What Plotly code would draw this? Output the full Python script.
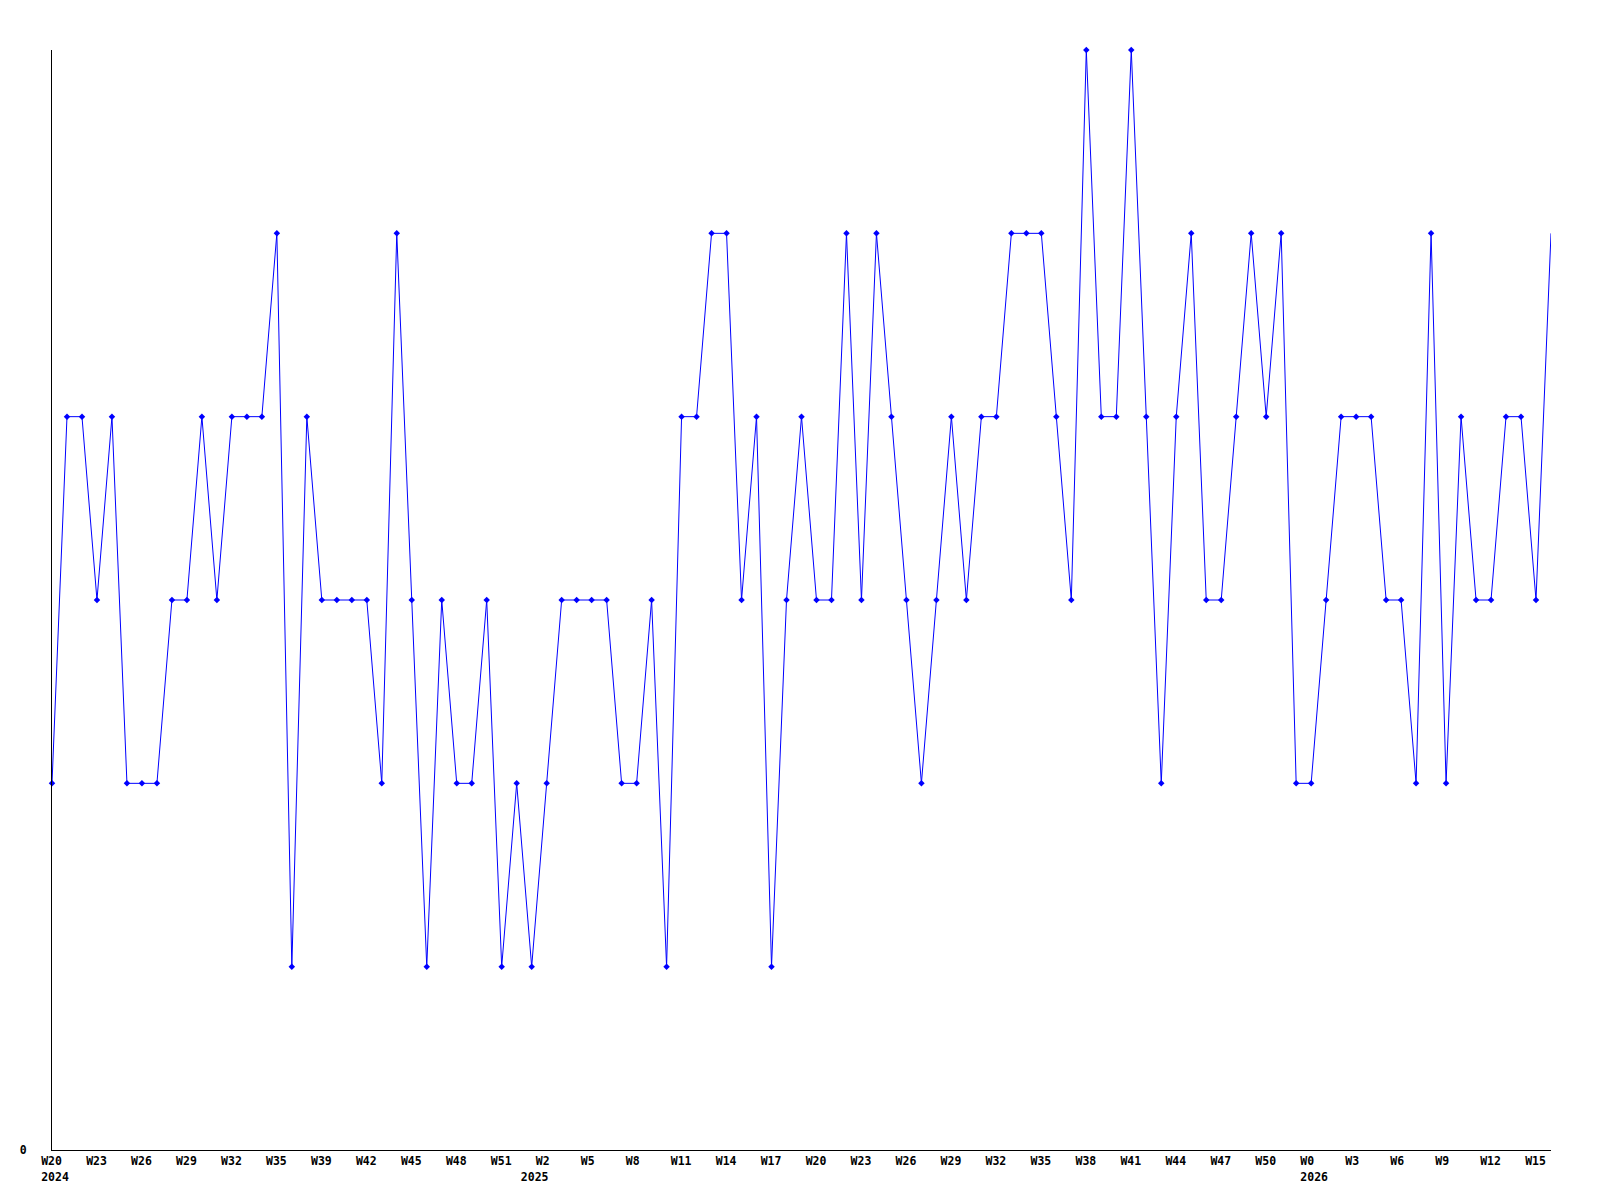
import plotly.graph_objects as go

# Weekly counts, one per week from W20 2024 onwards.
counts = [
    2, 4, 4, 3, 4, 2, 2, 2, 3, 3,
    4, 3, 4, 4, 4, 5, 1, 4, 3, 3,
    3, 3, 2, 5, 3, 1, 3, 2, 2, 3,
    1, 2, 1, 2, 3, 3, 3, 3, 2, 2,
    3, 1, 4, 4, 5, 5, 3, 4, 1, 3,
    4, 3, 3, 5, 3, 5, 4, 3, 2, 3,
    4, 3, 4, 4, 5, 5, 5, 4, 3, 6,
    4, 4, 6, 4, 2, 4, 5, 3, 3, 4,
    5, 4, 5, 2, 2, 3, 4, 4, 4, 3,
    3, 2, 5, 2, 4, 3, 3, 4, 4, 3,
    5,
]

# Tick labels, one every third week.
week_labels = [
    "W20", "W23", "W26", "W29", "W32", "W35", "W39", "W42", "W45", "W48",
    "W51", "W2", "W5", "W8", "W11", "W14", "W17", "W20", "W23", "W26",
    "W29", "W32", "W35", "W38", "W41", "W44", "W47", "W50", "W0", "W3",
    "W6", "W9", "W12", "W15",
]
# Year labels sit at the first week of each year.
year_weeks = [0, 32, 84]
year_labels = ["2024", "2025", "2026"]

x = list(range(len(counts)))
tick_step = 3
tickvals = [i * tick_step for i in range(len(week_labels))]

# Pad to four characters so weeks line up with the years (monospace font).
ticktext = [label.ljust(4).replace(" ", "\u00a0") for label in week_labels]

blue = "rgb(0,0,255)"
font = dict(family="DejaVu Sans Mono", size=11.5, color="black", weight="bold")

fig = go.Figure()

fig.add_trace(go.Scatter(
    x=x,
    y=counts,
    mode="lines",
    line=dict(color=blue, width=1),
    cliponaxis=False,
    hoverinfo="skip",
))

# The last week is drawn without a marker.
fig.add_trace(go.Scatter(
    x=x[:-1],
    y=counts[:-1],
    xaxis="x2",
    mode="markers",
    marker=dict(color=blue, symbol="diamond", size=5, line=dict(width=0)),
    cliponaxis=False,
))

x_range = [0, len(counts) - 1]
common_x = dict(
    range=x_range,
    tickmode="array",
    showgrid=False,
    zeroline=False,
    ticks="",
    ticklabelshift=3,
    tickfont=font,
)

# The page body adds an 8px margin, so the figure is 8px smaller.
fig.update_layout(
    width=1592,
    height=1192,
    margin=dict(l=42, r=49, t=42, b=50),
    plot_bgcolor="white",
    paper_bgcolor="white",
    showlegend=False,
    font=font,
    xaxis=dict(
        **common_x,
        tickvals=tickvals,
        ticktext=ticktext,
        showline=True,
        linecolor="black",
        linewidth=1,
        ticklabelstandoff=0,
    ),
    xaxis2=dict(
        **common_x,
        overlaying="x",
        side="bottom",
        tickvals=year_weeks,
        ticktext=year_labels,
        showline=False,
        ticklabelstandoff=18,
    ),
    yaxis=dict(
        range=[0, 6],
        tickmode="array",
        tickvals=[0],
        ticktext=["0"],
        showgrid=False,
        zeroline=False,
        showline=True,
        linecolor="black",
        linewidth=1,
        ticks="",
        ticklabelstandoff=22,
        tickfont=font,
    ),
)

fig.write_html("out.html")
